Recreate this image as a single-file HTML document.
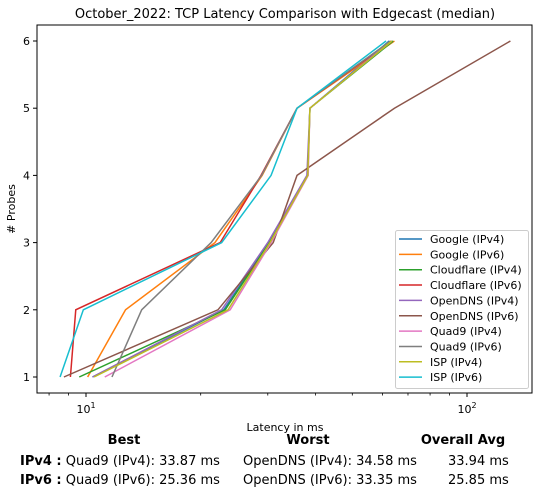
<!DOCTYPE html>
<html><head><meta charset="utf-8"><style>
body{margin:0;background:#fff;font-family:"DejaVu Sans","Liberation Sans",sans-serif;}
svg text{font-family:"DejaVu Sans","Liberation Sans",sans-serif;}
</style></head><body>
<svg id="chart" width="541" height="496" xmlns="http://www.w3.org/2000/svg">
<rect width="541" height="496" fill="#fff"/>
<text x="285" y="18" text-anchor="middle" font-size="13">October_2022: TCP Latency Comparison with Edgecast (median)</text>
<g id="plot"></g>
<text x="285" y="431" text-anchor="middle" font-size="11">Latency in ms</text>
<text transform="translate(15,209) rotate(-90)" text-anchor="middle" font-size="11"># Probes</text>
<g font-size="13">
<text x="124" y="444" text-anchor="middle" font-weight="bold">Best</text>
<text x="308" y="444" text-anchor="middle" font-weight="bold">Worst</text>
<text x="463" y="444" text-anchor="middle" font-weight="bold">Overall Avg</text>
<text x="20" y="465"><tspan font-weight="bold">IPv4 :</tspan> Quad9 (IPv4): 33.87 ms</text>
<text x="243" y="465">OpenDNS (IPv4): 34.58 ms</text>
<text x="448" y="465">33.94 ms</text>
<text x="20" y="484"><tspan font-weight="bold">IPv6 :</tspan> Quad9 (IPv6): 25.36 ms</text>
<text x="243" y="484">OpenDNS (IPv6): 33.35 ms</text>
<text x="448" y="484">25.85 ms</text>
</g>
</svg>
<script>
const probes=[1,2,3,4,5,6];
const seriesNames=["Google (IPv4)","Google (IPv6)","Cloudflare (IPv4)","Cloudflare (IPv6)","OpenDNS (IPv4)","OpenDNS (IPv6)","Quad9 (IPv4)","Quad9 (IPv6)","ISP (IPv4)","ISP (IPv6)"];
const googleV4=[10.4,23.0,30.2,38.2,38.7,62.5];
const googleV6=[10.1,12.7,21.8,29.0,35.8,64.5];
const cloudflareV4=[9.6,23.2,30.3,38.2,38.7,64.0];
const cloudflareV6=[9.1,9.4,22.5,28.8,35.8,63.5];
const openDnsV4=[10.4,22.7,30.0,38.0,38.7,63.0];
const openDnsV6=[8.75,22.2,31.0,35.8,64.5,130];
const quad9V4=[11.2,23.9,30.6,38.3,38.7,63.5];
const quad9V6=[11.7,14.0,21.3,28.9,35.8,63.0];
const ispV4=[10.5,23.6,30.4,38.2,38.7,63.5];
const ispV6=[8.55,9.84,22.7,30.6,35.8,61.3];
const allSeries=[googleV4,googleV6,cloudflareV4,cloudflareV6,openDnsV4,openDnsV6,quad9V4,quad9V6,ispV4,ispV6];
const colors=["#1f77b4","#ff7f0e","#2ca02c","#d62728","#9467bd","#8c564b","#e377c2","#7f7f7f","#bcbd22","#17becf"];
const yTicks=[1,2,3,4,5,6];
const L=37,R=532,T=25,B=393;
const xs=v=>86+381*(Math.log10(v)-1);
const ys=v=>377-(v-1)*67.2;
const NS="http://www.w3.org/2000/svg";
const g=document.getElementById('plot');
function mk(t,a){const e=document.createElementNS(NS,t);for(const k in a)e.setAttribute(k,a[k]);g.appendChild(e);return e;}
for(const t of yTicks){
 const y=ys(t);
 const l=mk('line',{x1:L-4,x2:L,y1:y,y2:y,stroke:'#000'});
 
 
 const tx=mk('text',{x:L-7,y:y+4,'text-anchor':'end','font-size':11});tx.textContent=t;
 
 
}
const minor=[8,9,20,30,40,50,60,70,80,90];
for(const m of minor){const x=xs(m);const l=mk('line',{x1:x,x2:x,y1:B,y2:B+2.5,stroke:'#000','stroke-width':0.8});
 
 }
for(const [v,e] of [[10,1],[100,2]]){const x=xs(v);mk('line',{x1:x,x2:x,y1:B,y2:B+4,stroke:'#000'});
 const tx=mk('text',{x:x,y:B+20,'text-anchor':'middle','font-size':11});tx.innerHTML='10<tspan dy="-5" font-size="8">'+e+'</tspan>';
 
 }
allSeries.forEach((s,i)=>{
 const p=mk('polyline',{points:s.map((v,j)=>xs(v)+','+ys(probes[j])).join(' '),fill:'none',stroke:colors[i],'stroke-width':1.5});
 
 
});
const fr=mk('rect',{x:L,y:T,width:R-L,height:B-T,fill:'none',stroke:'#000','stroke-width':1});


const lg=mk('rect',{x:395.5,y:230.5,width:133,height:158,fill:'#fff',stroke:'#ccc',rx:2});


seriesNames.forEach((n,i)=>{
 const y=239+i*15.35;
 const l=mk('line',{x1:399,x2:422,y1:y,y2:y,stroke:colors[i],'stroke-width':1.5});
 
 
 const t=mk('text',{x:430,y:y+4,'font-size':11});t.textContent=n;
 
 
});
</script>
</body></html>
